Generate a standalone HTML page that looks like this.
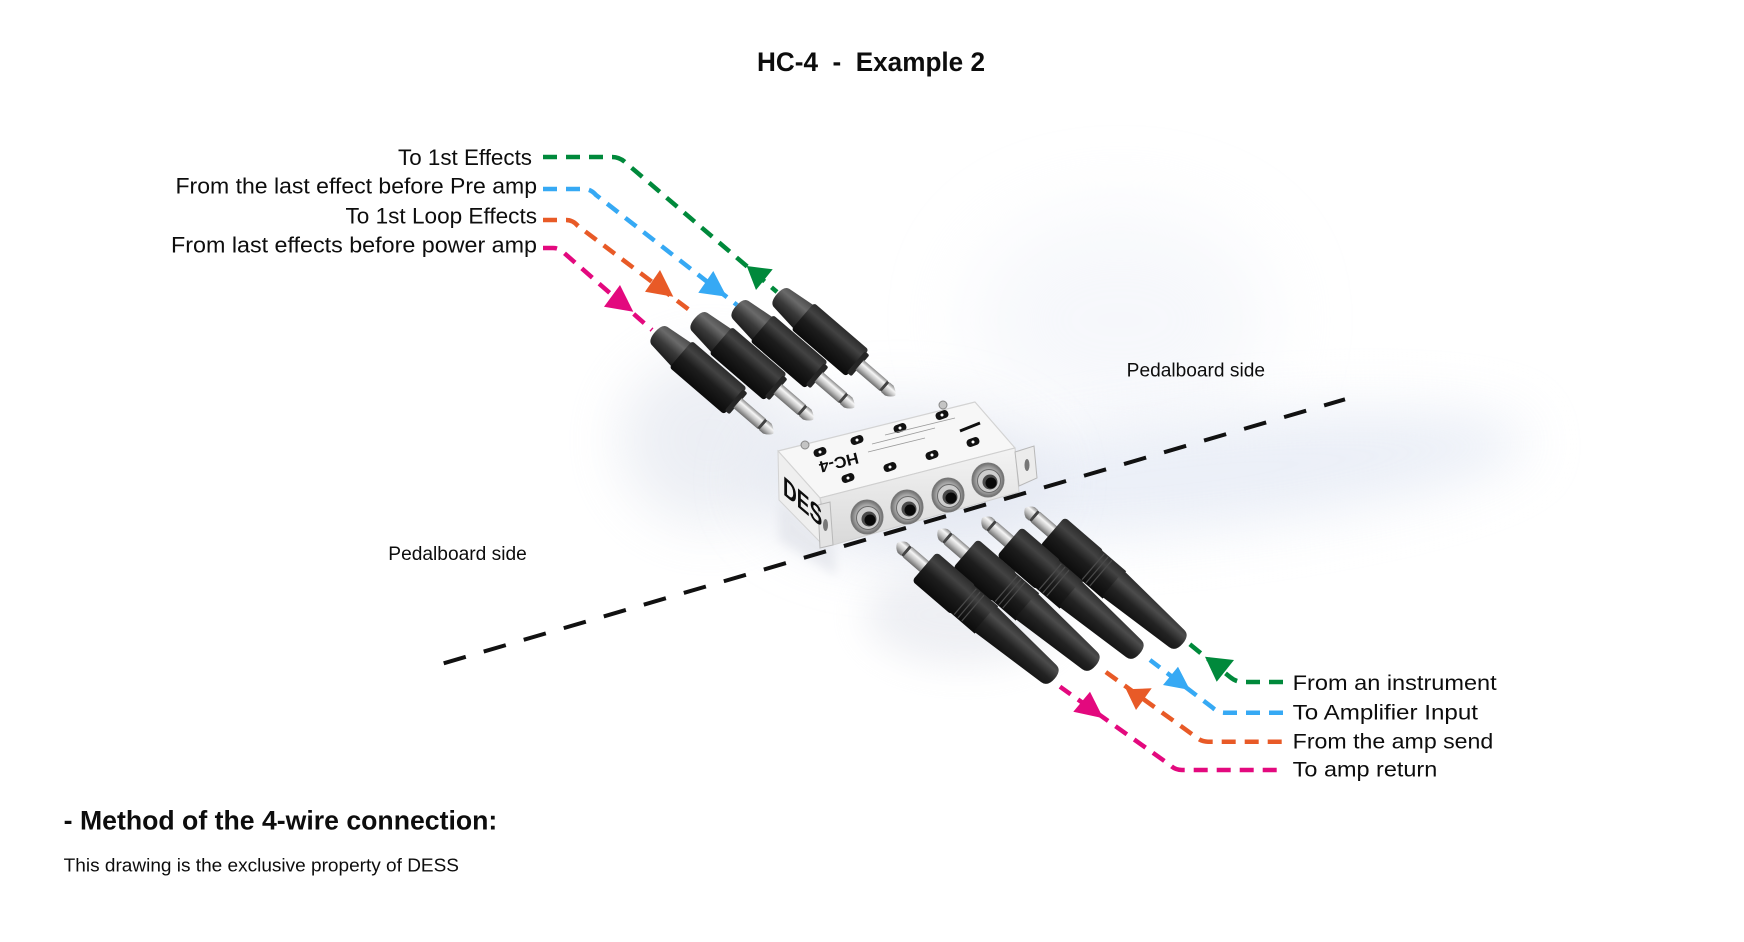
<!DOCTYPE html>
<html><head><meta charset="utf-8">
<style>
html,body{margin:0;padding:0;background:#fff;}
svg{display:block;}
text{font-family:"Liberation Sans",sans-serif;fill:#0d0d0d;}
</style></head><body>
<svg width="1744" height="942" viewBox="0 0 1744 942" xmlns="http://www.w3.org/2000/svg">
<defs>
 <filter id="b40" x="-100%" y="-100%" width="300%" height="300%"><feGaussianBlur stdDeviation="40"/></filter>
 <filter id="b28" x="-100%" y="-100%" width="300%" height="300%"><feGaussianBlur stdDeviation="28"/></filter>
 <filter id="b18" x="-100%" y="-100%" width="300%" height="300%"><feGaussianBlur stdDeviation="18"/></filter>
 <filter id="b5" x="-50%" y="-50%" width="200%" height="200%"><feGaussianBlur stdDeviation="5"/></filter>
 <linearGradient id="gBoot" x1="0" y1="0" x2="0" y2="1">
  <stop offset="0" stop-color="#4a4a4a"/><stop offset=".3" stop-color="#6a6a6a"/><stop offset=".6" stop-color="#3a3a3a"/><stop offset="1" stop-color="#191919"/>
 </linearGradient>
 <linearGradient id="gBoot2" x1="0" y1="0" x2="0" y2="1">
  <stop offset="0" stop-color="#2a2a2a"/><stop offset=".3" stop-color="#4c4c4c"/><stop offset=".6" stop-color="#232323"/><stop offset="1" stop-color="#101010"/>
 </linearGradient>
 <linearGradient id="gGrip" x1="0" y1="0" x2="0" y2="1">
  <stop offset="0" stop-color="#2c2c2c"/><stop offset=".25" stop-color="#434343"/><stop offset=".55" stop-color="#1d1d1d"/><stop offset="1" stop-color="#0b0b0b"/>
 </linearGradient>
 <linearGradient id="gSil" x1="0" y1="0" x2="0" y2="1">
  <stop offset="0" stop-color="#888"/><stop offset=".3" stop-color="#f6f6f6"/><stop offset=".6" stop-color="#c4c4c4"/><stop offset="1" stop-color="#6c6c6c"/>
 </linearGradient>
 <linearGradient id="gFront" x1="0" y1="0" x2="0" y2="1">
  <stop offset="0" stop-color="#f3f3f3"/><stop offset="1" stop-color="#d9d9d9"/>
 </linearGradient>
 <radialGradient id="gNut" cx=".5" cy=".5" r=".5">
  <stop offset="0" stop-color="#d8d8d8"/><stop offset=".7" stop-color="#a9a9a9"/><stop offset="1" stop-color="#6c6c6c"/>
 </radialGradient>
 <clipPath id="leftFace"><polygon points="778,451 820,498 824,546 779,500"/></clipPath>

 <g id="tp">
  <path d="M6,-12 Q0,-11 0,0 Q0,11 6,12 L36,15.5 L36,-15.5 Z" fill="url(#gBoot)"/>
  <rect x="34" y="-17.5" width="72" height="35" rx="3" fill="url(#gGrip)"/>
  <rect x="104" y="-14" width="6" height="28" rx="2" fill="#262626"/>
  <rect x="109" y="-6.5" width="32" height="13" fill="url(#gSil)"/>
  <rect x="140" y="-6" width="3" height="12" fill="#444"/>
  <path d="M143,-6.5 L148,-6.5 Q154,-4 156,0 Q154,4 148,6.5 L143,6.5 Z" fill="url(#gSil)"/>
 </g>
 <g id="bp">
  <path d="M0,0 Q2,-5 7,-7 L11,-7 L11,7 L7,7 Q2,5 0,0Z" fill="url(#gSil)"/>
  <rect x="11" y="-6.5" width="3" height="13" fill="#444"/>
  <rect x="14" y="-7" width="24" height="14" fill="url(#gSil)"/>
  <rect x="36" y="-19" width="52" height="38" rx="4" fill="url(#gGrip)"/>
  <rect x="86" y="-18" width="32" height="36" fill="url(#gGrip)"/>
  <g stroke="#4a4a4a" stroke-width="1.2">
   <line x1="90" y1="-17" x2="90" y2="17"/><line x1="95" y1="-17" x2="95" y2="17"/><line x1="100" y1="-17" x2="100" y2="17"/>
  </g>
  <path d="M116,-17 L200,-11.5 Q208,-11 208,0 Q208,11 200,11.5 L116,17 Z" fill="url(#gBoot2)"/>
 </g>
</defs>

<rect width="1744" height="942" fill="#fff"/>

<!-- haze -->
<ellipse cx="1120" cy="320" rx="150" ry="110" fill="#eef1f8" opacity=".5" filter="url(#b40)"/>
<ellipse cx="1190" cy="475" rx="340" ry="55" transform="rotate(-6 1190 475)" fill="#e6ebf5" opacity=".8" filter="url(#b28)"/>
<ellipse cx="710" cy="440" rx="90" ry="85" fill="#d6dbe7" opacity=".45" filter="url(#b28)"/>
<ellipse cx="900" cy="480" rx="150" ry="80" fill="#e2e6f0" opacity=".7" filter="url(#b28)"/>
<ellipse cx="965" cy="615" rx="100" ry="50" fill="#dadde6" opacity=".45" filter="url(#b18)"/>

<!-- top plugs -->
<use href="#tp" transform="translate(777,294) rotate(40.7)"/>
<use href="#tp" transform="translate(736,306) rotate(40.7)"/>
<use href="#tp" transform="translate(695,318) rotate(40.7)"/>
<use href="#tp" transform="translate(655,332) rotate(40.7)"/>

<!-- box reflection -->
<polygon points="779,500 834,546 836,575 779,540" fill="#e4e6ec" opacity=".8" filter="url(#b5)"/>

<!-- box -->
<polygon points="778,451 975,402 1015,448 820,498" fill="#f7f7f7" stroke="#d3d3d3" stroke-width="1.2" stroke-linejoin="round"/>
<polygon points="778,451 820,498 824,546 779,500" fill="#efefef" stroke="#d3d3d3" stroke-width="1"/>
<polygon points="820,498 1015,448 1019,492 833,545" fill="url(#gFront)" stroke="#cfcfcf" stroke-width="1"/>
<polygon points="818,505 830,502 833,545 820,548" fill="#e4e4e4" stroke="#b8b8b8" stroke-width="1"/>
<ellipse cx="825.5" cy="525" rx="2.5" ry="6" fill="#777"/>
<polygon points="1015,452 1034,446 1037,478 1019,486" fill="#ececec" stroke="#b8b8b8" stroke-width="1"/>
<ellipse cx="1027" cy="465" rx="2.5" ry="6" fill="#777"/>

<g clip-path="url(#leftFace)"><text transform="matrix(1,0.86,0,1,783,494)" font-size="27" font-weight="bold" textLength="52" lengthAdjust="spacingAndGlyphs" fill="#111">DESS</text></g>

<!-- markings -->
<g fill="#111">
 <rect x="-6.5" y="-4" width="13" height="8" rx="3.5" transform="translate(820,452) rotate(-20)"/>
 <rect x="-6.5" y="-4" width="13" height="8" rx="3.5" transform="translate(857,440) rotate(-20)"/>
 <rect x="-6.5" y="-4" width="13" height="8" rx="3.5" transform="translate(900,428) rotate(-20)"/>
 <rect x="-6.5" y="-4" width="13" height="8" rx="3.5" transform="translate(942,415) rotate(-20)"/>
 <rect x="-6.5" y="-4" width="13" height="8" rx="3.5" transform="translate(848,478) rotate(-20)"/>
 <rect x="-6.5" y="-4" width="13" height="8" rx="3.5" transform="translate(890,467) rotate(-20)"/>
 <rect x="-6.5" y="-4" width="13" height="8" rx="3.5" transform="translate(932,455) rotate(-20)"/>
 <rect x="-6.5" y="-4" width="13" height="8" rx="3.5" transform="translate(973,442) rotate(-20)"/>
</g>
<g fill="#fff">
 <circle cx="820" cy="452" r="1.5"/><circle cx="857" cy="440" r="1.5"/><circle cx="900" cy="428" r="1.5"/><circle cx="942" cy="415" r="1.5"/>
 <circle cx="848" cy="478" r="1.5"/><circle cx="890" cy="467" r="1.5"/><circle cx="932" cy="455" r="1.5"/><circle cx="973" cy="442" r="1.5"/>
</g>
<g stroke="#9a9a9a" stroke-width=".8">
 <line x1="868" y1="452" x2="925" y2="438"/><line x1="872" y1="444" x2="935" y2="428"/><line x1="885" y1="435" x2="955" y2="418"/>
</g>
<line x1="960" y1="431" x2="980" y2="423" stroke="#111" stroke-width="3"/>
<circle cx="805" cy="445" r="4" fill="#c4c4c4" stroke="#888"/>
<circle cx="943" cy="405" r="4" fill="#c4c4c4" stroke="#888"/>
<text transform="translate(839,463) rotate(166)" x="-20" y="6" font-size="16" font-weight="bold" textLength="40" lengthAdjust="spacingAndGlyphs" fill="#111">HC-4</text>

<!-- jacks -->
<g>
 <ellipse cx="867" cy="517" rx="16" ry="17" fill="url(#gNut)" stroke="#777" stroke-width="1"/>
 <circle cx="868" cy="518" r="11.5" fill="#cdcdcd" stroke="#6a6a6a"/>
 <circle cx="869" cy="519" r="7.5" fill="#4a4a4a"/>
 <circle cx="870" cy="520" r="5.5" fill="#080808"/>
 <ellipse cx="907" cy="507" rx="16" ry="17" fill="url(#gNut)" stroke="#777" stroke-width="1"/>
 <circle cx="908" cy="508" r="11.5" fill="#cdcdcd" stroke="#6a6a6a"/>
 <circle cx="909" cy="509" r="7.5" fill="#4a4a4a"/>
 <circle cx="910" cy="510" r="5.5" fill="#080808"/>
 <ellipse cx="948" cy="495" rx="16" ry="17" fill="url(#gNut)" stroke="#777" stroke-width="1"/>
 <circle cx="949" cy="496" r="11.5" fill="#cdcdcd" stroke="#6a6a6a"/>
 <circle cx="950" cy="497" r="7.5" fill="#4a4a4a"/>
 <circle cx="951" cy="498" r="5.5" fill="#080808"/>
 <ellipse cx="988" cy="480" rx="16" ry="17" fill="url(#gNut)" stroke="#777" stroke-width="1"/>
 <circle cx="989" cy="481" r="11.5" fill="#cdcdcd" stroke="#6a6a6a"/>
 <circle cx="990" cy="482" r="7.5" fill="#4a4a4a"/>
 <circle cx="991" cy="483" r="5.5" fill="#080808"/>
</g>

<!-- black dashed divider -->
<line x1="443.7" y1="663.3" x2="1345" y2="399.3" stroke="#111" stroke-width="4" stroke-dasharray="23 18.7"/>

<!-- bottom plugs -->
<use href="#bp" transform="translate(1025,508) rotate(40.7)"/>
<use href="#bp" transform="translate(982,518) rotate(40.7)"/>
<use href="#bp" transform="translate(938,530) rotate(40.7)"/>
<use href="#bp" transform="translate(897,543) rotate(40.7)"/>

<!-- colored connectors -->
<g fill="none" stroke-width="4.5" stroke-dasharray="14 9">
 <path stroke="#00893b" d="M543,157 H612 Q620,157 626,163 L777,292"/>
 <path stroke="#36a9f4" d="M543,189 H584 Q591,189 596,195 L737,305"/>
 <path stroke="#e85a27" d="M543,220 H566 Q573,220 578,226 L692,312"/>
 <path stroke="#e3097e" d="M543,248 H553 Q559,248 563,252 L652,330"/>
 <path stroke="#00893b" d="M1283,682 H1243 Q1236,682 1230,677 L1187,642"/>
 <path stroke="#36a9f4" d="M1283,712.7 H1225 Q1218,712.7 1213,708 L1150,660"/>
 <path stroke="#e85a27" d="M1281.7,741.7 H1208 Q1201,741.7 1196,737 L1103,670"/>
 <path stroke="#e3097e" d="M1276.7,770 H1182 Q1175,770 1170,765 L1060,686.7"/>
</g>
<polygon fill="#00893b" points="746.7,266 772.7,269.3 756,290"/>
<polygon fill="#36a9f4" points="713.3,271 698.3,292.7 726.7,296.7"/>
<polygon fill="#e85a27" points="660,270 645,291.7 673.3,296.7"/>
<polygon fill="#e3097e" points="620,285 604,306.7 633.3,311.7"/>
<polygon fill="#00893b" points="1205,656.7 1234,660 1216.7,681.7"/>
<polygon fill="#36a9f4" points="1163,685 1178,666.7 1190,690"/>
<polygon fill="#e85a27" points="1126,689.3 1151.7,688.3 1136,710"/>
<polygon fill="#e3097e" points="1073.3,711.7 1090,691.7 1103.3,718.3"/>

<!-- text -->
<text x="757" y="71" font-size="27" font-weight="bold" textLength="228" lengthAdjust="spacingAndGlyphs" style="white-space:pre" fill="#000">HC-4  -  Example 2</text>

<g font-size="22" fill="#0d0d0d">
 <text x="398" y="165" textLength="134" lengthAdjust="spacingAndGlyphs">To 1st Effects</text>
 <text x="175.5" y="193.3" textLength="361.5" lengthAdjust="spacingAndGlyphs">From the last effect before Pre amp</text>
 <text x="345.5" y="223.3" textLength="191.5" lengthAdjust="spacingAndGlyphs">To 1st Loop Effects</text>
 <text x="171" y="252.7" textLength="366" lengthAdjust="spacingAndGlyphs">From last effects before power amp</text>
</g>
<g font-size="21.5">
 <text x="1292.7" y="690" textLength="204" lengthAdjust="spacingAndGlyphs">From an instrument</text>
 <text x="1292.7" y="719.3" textLength="185.3" lengthAdjust="spacingAndGlyphs">To Amplifier Input</text>
 <text x="1292.7" y="748.3" textLength="200.6" lengthAdjust="spacingAndGlyphs">From the amp send</text>
 <text x="1292.7" y="776.7" textLength="144.6" lengthAdjust="spacingAndGlyphs">To amp return</text>
</g>
<text x="1126.7" y="376.7" font-size="19" textLength="138.3" lengthAdjust="spacingAndGlyphs">Pedalboard side</text>
<text x="388.3" y="560" font-size="19" textLength="138.5" lengthAdjust="spacingAndGlyphs">Pedalboard side</text>
<text x="63.7" y="829.3" font-size="26.5" font-weight="bold" textLength="433.6" lengthAdjust="spacingAndGlyphs" fill="#000">- Method of the 4-wire connection:</text>
<text x="63.7" y="871.7" font-size="18.3" textLength="395.3" lengthAdjust="spacingAndGlyphs">This drawing is the exclusive property of DESS</text>
</svg>
</body></html>
